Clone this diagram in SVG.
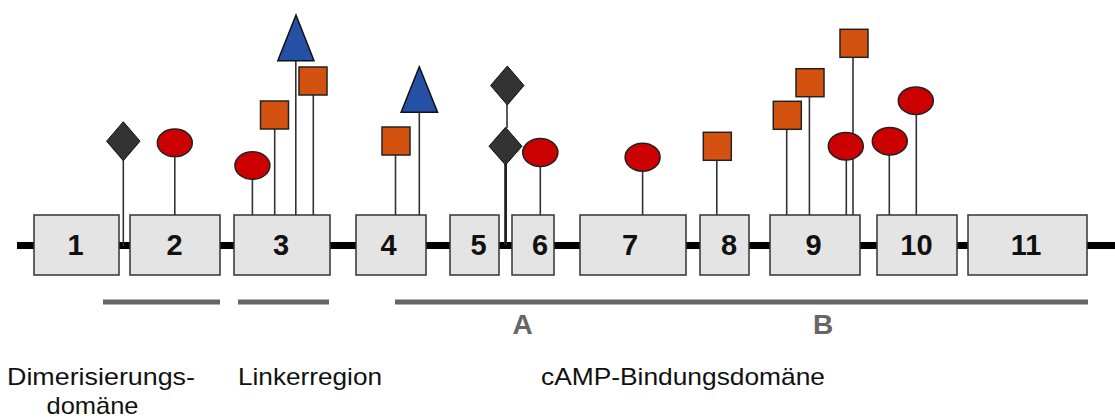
<svg xmlns="http://www.w3.org/2000/svg" width="1115" height="419" viewBox="0 0 1115 419">
<style>
.box{fill:#e4e4e4;stroke:#333;stroke-width:1.5}
.num{font-family:"Liberation Sans",Arial,sans-serif;font-weight:bold;font-size:29px;fill:#111;text-anchor:middle}
.stalk{stroke:#333;stroke-width:1.6;fill:none}
.red{fill:#cc0000;stroke:#222;stroke-width:1.5}
.org{fill:#d4520f;stroke:#222;stroke-width:1.5}
.blu{fill:#2450a6;stroke:#111;stroke-width:1.5}
.dia{fill:#333;stroke:#111;stroke-width:1}
.bar{fill:#666}
.sub{font-family:"Liberation Sans",Arial,sans-serif;font-weight:bold;font-size:28px;fill:#666;text-anchor:middle}
.lbl{font-family:"Liberation Sans",Arial,sans-serif;font-size:24px;fill:#111}
</style>
<rect width="1115" height="419" fill="#fff"/>
<g id="backbone"><rect x="17" y="242" width="1098" height="7" fill="#000"/></g>
<g id="connectors">
<line class="stalk" x1="123.3" y1="160" x2="123.3" y2="246"/>
<line class="stalk" x1="174.8" y1="156" x2="174.8" y2="215"/>
<line class="stalk" x1="252.4" y1="179" x2="252.4" y2="215"/>
<line class="stalk" x1="274.7" y1="129" x2="274.7" y2="215"/>
<line class="stalk" x1="295.8" y1="60" x2="295.8" y2="215"/>
<line class="stalk" x1="313.3" y1="95" x2="313.3" y2="215"/>
<line class="stalk" x1="395.5" y1="155" x2="395.5" y2="215"/>
<line class="stalk" x1="419.3" y1="112" x2="419.3" y2="215"/>
<line class="stalk" x1="507" y1="104" x2="507" y2="128"/>
<line class="stalk" x1="505.6" y1="164" x2="505.6" y2="245" style="stroke-width:2.8;stroke:#222"/>
<line class="stalk" x1="540.3" y1="166" x2="540.3" y2="215"/>
<line class="stalk" x1="642.6" y1="171" x2="642.6" y2="215"/>
<line class="stalk" x1="716.8" y1="160" x2="716.8" y2="215"/>
<line class="stalk" x1="786.7" y1="129" x2="786.7" y2="215"/>
<line class="stalk" x1="809.4" y1="96" x2="809.4" y2="215"/>
<line class="stalk" x1="853" y1="57" x2="853" y2="215"/>
<line class="stalk" x1="846.3" y1="160" x2="846.3" y2="215"/>
<line class="stalk" x1="889.3" y1="155" x2="889.3" y2="215"/>
<line class="stalk" x1="916.3" y1="114" x2="916.3" y2="215"/>
</g>
<g id="exon1"><rect class="box" x="34" y="215" width="85" height="60"/><text class="num" x="75.5" y="255">1</text></g>
<g id="exon2"><rect class="box" x="130" y="215" width="90" height="60"/><text class="num" x="174.5" y="255">2</text></g>
<g id="exon3"><rect class="box" x="234" y="215" width="96" height="60"/><text class="num" x="281" y="255">3</text></g>
<g id="exon4"><rect class="box" x="356" y="215" width="70" height="60"/><text class="num" x="388.5" y="255">4</text></g>
<g id="exon5"><rect class="box" x="450" y="215" width="49" height="60"/><text class="num" x="478.5" y="255">5</text></g>
<g id="exon6"><rect class="box" x="512" y="215" width="42" height="60"/><text class="num" x="540" y="255">6</text></g>
<g id="exon7"><rect class="box" x="580" y="215" width="106" height="60"/><text class="num" x="630" y="255">7</text></g>
<g id="exon8"><rect class="box" x="700" y="215" width="49" height="60"/><text class="num" x="729" y="255">8</text></g>
<g id="exon9"><rect class="box" x="770" y="215" width="90" height="60"/><text class="num" x="813.5" y="255">9</text></g>
<g id="exon10"><rect class="box" x="877" y="215" width="80" height="60"/><text class="num" x="916.5" y="255">10</text></g>
<g id="exon11"><rect class="box" x="968" y="215" width="119" height="60"/><text class="num" x="1026" y="255">11</text></g>
<g id="mod-diamond-1"><polygon class="dia" points="123.3,121.7 140,141.2 123.3,160.7 106.6,141.2"/></g>
<g id="mod-ellipse-2"><ellipse class="red" cx="174.8" cy="142.8" rx="17.5" ry="13.8"/></g>
<g id="mod-ellipse-3"><ellipse class="red" cx="252.4" cy="165.5" rx="17.5" ry="13.8"/></g>
<g id="mod-square-3a"><rect class="org" x="260.5" y="101" width="28" height="28"/></g>
<g id="mod-triangle-3"><polygon class="blu" points="296,15 314,60.7 277.8,60.7"/></g>
<g id="mod-square-3b"><rect class="org" x="299" y="67" width="28" height="28"/></g>
<g id="mod-square-4"><rect class="org" x="382" y="127" width="28" height="28"/></g>
<g id="mod-triangle-4"><polygon class="blu" points="419.3,66.7 437.6,112.3 401.1,112.3"/></g>
<g id="mod-diamond-5a"><polygon class="dia" points="507.3,66 524,85.5 507.3,105 490.6,85.5"/></g>
<g id="mod-diamond-5b"><polygon class="dia" points="505.5,127.3 522,146.2 505.5,165 489,146.2"/></g>
<g id="mod-ellipse-6"><ellipse class="red" cx="540.3" cy="152.5" rx="17.6" ry="14"/></g>
<g id="mod-ellipse-7"><ellipse class="red" cx="642.6" cy="157.3" rx="17.5" ry="14"/></g>
<g id="mod-square-8"><rect class="org" x="703.3" y="132.3" width="28" height="28"/></g>
<g id="mod-square-9a"><rect class="org" x="773.3" y="101.3" width="28" height="28"/></g>
<g id="mod-square-9b"><rect class="org" x="796" y="68.7" width="28" height="28"/></g>
<g id="mod-square-9c"><rect class="org" x="840" y="29.3" width="28" height="28"/></g>
<g id="mod-ellipse-9"><ellipse class="red" cx="845.8" cy="146.2" rx="17.5" ry="13.8"/></g>
<g id="mod-ellipse-10a"><ellipse class="red" cx="889.8" cy="141.2" rx="17.5" ry="13.8"/></g>
<g id="mod-ellipse-10b"><ellipse class="red" cx="915.8" cy="100.7" rx="17.5" ry="13.8"/></g>
<g id="domain-bars">
<rect class="bar" x="103" y="299.5" width="117" height="5"/>
<rect class="bar" x="238" y="299.5" width="91" height="5"/>
<rect class="bar" x="395" y="299.5" width="693" height="5"/>
<text class="sub" x="522.7" y="334">A</text>
<text class="sub" x="823" y="334">B</text>
</g>
<g id="labels">
<text class="lbl" x="7" y="385" textLength="188" lengthAdjust="spacingAndGlyphs">Dimerisierungs-</text>
<text class="lbl" x="46.5" y="414" textLength="92" lengthAdjust="spacingAndGlyphs">domäne</text>
<text class="lbl" x="238" y="385" textLength="144" lengthAdjust="spacingAndGlyphs">Linkerregion</text>
<text class="lbl" x="541" y="385" textLength="284" lengthAdjust="spacingAndGlyphs">cAMP-Bindungsdomäne</text>
</g>
</svg>
